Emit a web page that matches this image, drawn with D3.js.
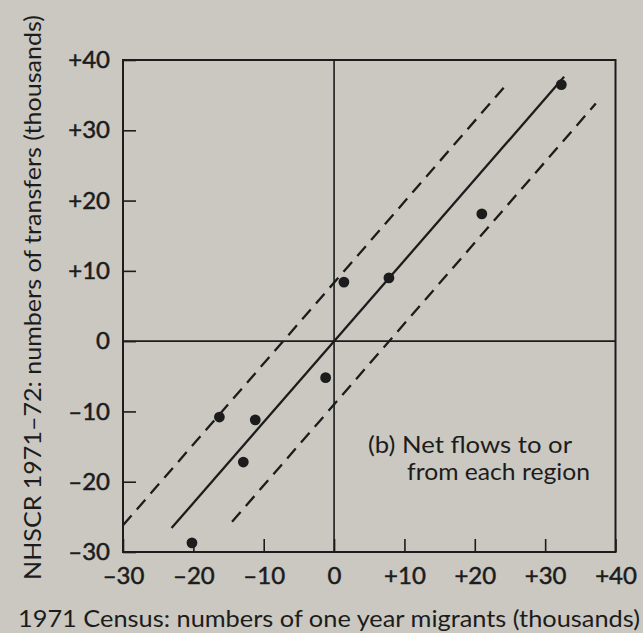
<!DOCTYPE html>
<html>
<head>
<meta charset="utf-8">
<script src="https://cdn.jsdelivr.net/npm/d3@7"></script>
<style>
  html, body { margin: 0; padding: 0; background: #cac8c0; }
  svg { display: block; }
  text { font-family: Lato, "Liberation Sans", sans-serif; fill: #1c1c1c; }
</style>
</head>
<body>
<svg id="chart" width="643" height="633"></svg>
<script>
// Net migration flows per region: 1971 Census one-year migrants vs NHSCR 1971-72 transfers (thousands)
const censusFlows = [-20.2, -16.3, -12.9, -11.2, -1.2, 1.4, 7.8, 21.0, 32.3];
const nhscrFlows  = [-28.7, -10.8, -17.2, -11.2, -5.2, 8.4, 9.0, 18.1, 36.5];

// Fitted regression line and its two confidence limits, as end points [x0, y0, x1, y1]
const fitLine   = [-23.1, -26.6, 32.7, 37.6];
const upperBand = [-30.0, -26.2, 24.4, 36.4];
const lowerBand = [-14.5, -25.7, 37.2, 33.8];

const tickValues = [-30, -20, -10, 0, 10, 20, 30, 40];
const tickLabels = ["–30", "–20", "–10", "0", "+10", "+20", "+30", "+40"];

const xTitle = "1971 Census: numbers of one year migrants (thousands)";
const yTitle = "NHSCR 1971–72: numbers of transfers (thousands)";
const noteLines = ["(b) Net flows to or", "from each region"];

const ink = "#1c1c1c";
const svg = d3.select("#chart");
const plot = { left: 123, right: 615.5, top: 60, bottom: 552 };

const x = d3.scaleLinear().domain([-30, 40]).range([plot.left, plot.right]);
const y = d3.scaleLinear().domain([-30, 40]).range([plot.bottom, plot.top]);
const fmt = v => tickLabels[tickValues.indexOf(v)];

// zero lines
svg.append("line")
  .attr("x1", x(0)).attr("x2", x(0)).attr("y1", y(40)).attr("y2", y(-30))
  .attr("stroke", ink).attr("stroke-width", 1.6);
svg.append("line")
  .attr("x1", x(-30)).attr("x2", x(40)).attr("y1", y(0)).attr("y2", y(0))
  .attr("stroke", ink).attr("stroke-width", 1.6);

// axes with inward ticks
const xAxis = svg.append("g")
  .attr("transform", `translate(0,${plot.bottom})`)
  .call(d3.axisBottom(x).tickValues(tickValues).tickFormat(fmt).tickSize(-13).tickPadding(15));
const yAxis = svg.append("g")
  .attr("transform", `translate(${plot.left},0)`)
  .call(d3.axisLeft(y).tickValues(tickValues).tickFormat(fmt).tickSize(-13).tickPadding(13));
[xAxis, yAxis].forEach(g => {
  g.select(".domain").remove();
  g.selectAll(".tick line").attr("stroke", ink).attr("stroke-width", 1.6);
  g.selectAll(".tick text")
    .attr("fill", ink).attr("font-family", null)
    .attr("stroke", ink).attr("stroke-width", 0.5)
    .style("font-size", "24px");
});

// frame
svg.append("rect")
  .attr("x", x(-30)).attr("y", y(40))
  .attr("width", x(40) - x(-30)).attr("height", y(-30) - y(40))
  .attr("fill", "none").attr("stroke", ink).attr("stroke-width", 2);

// regression line and limits
const drawSeg = (p, dash) => svg.append("line")
  .attr("x1", x(p[0])).attr("y1", y(p[1]))
  .attr("x2", x(p[2])).attr("y2", y(p[3]))
  .attr("stroke", ink).attr("stroke-width", 2.3)
  .attr("stroke-dasharray", dash);
drawSeg(fitLine, null);
drawSeg(upperBand, "13,8");
drawSeg(lowerBand, "13,8");

// regions
svg.append("g").selectAll("circle")
  .data(censusFlows.map((v, i) => [v, nhscrFlows[i]]))
  .join("circle")
  .attr("cx", d => x(d[0])).attr("cy", d => y(d[1]))
  .attr("r", 5.4).attr("fill", ink);

// annotation
svg.append("text").attr("x", 368).attr("y", 453)
  .style("font-size", "24px").attr("textLength", 204).attr("lengthAdjust", "spacingAndGlyphs")
  .text(noteLines[0]);
svg.append("text").attr("x", 407).attr("y", 480)
  .style("font-size", "24px").attr("textLength", 183).attr("lengthAdjust", "spacingAndGlyphs")
  .text(noteLines[1]);

// axis titles
svg.append("text").attr("x", 18).attr("y", 627)
  .style("font-size", "23px").attr("textLength", 622).attr("lengthAdjust", "spacingAndGlyphs")
  .text(xTitle);
svg.append("text")
  .attr("transform", "translate(41,580) rotate(-90)")
  .style("font-size", "24px").attr("textLength", 565).attr("lengthAdjust", "spacingAndGlyphs")
  .text(yTitle);
</script>
</body>
</html>
